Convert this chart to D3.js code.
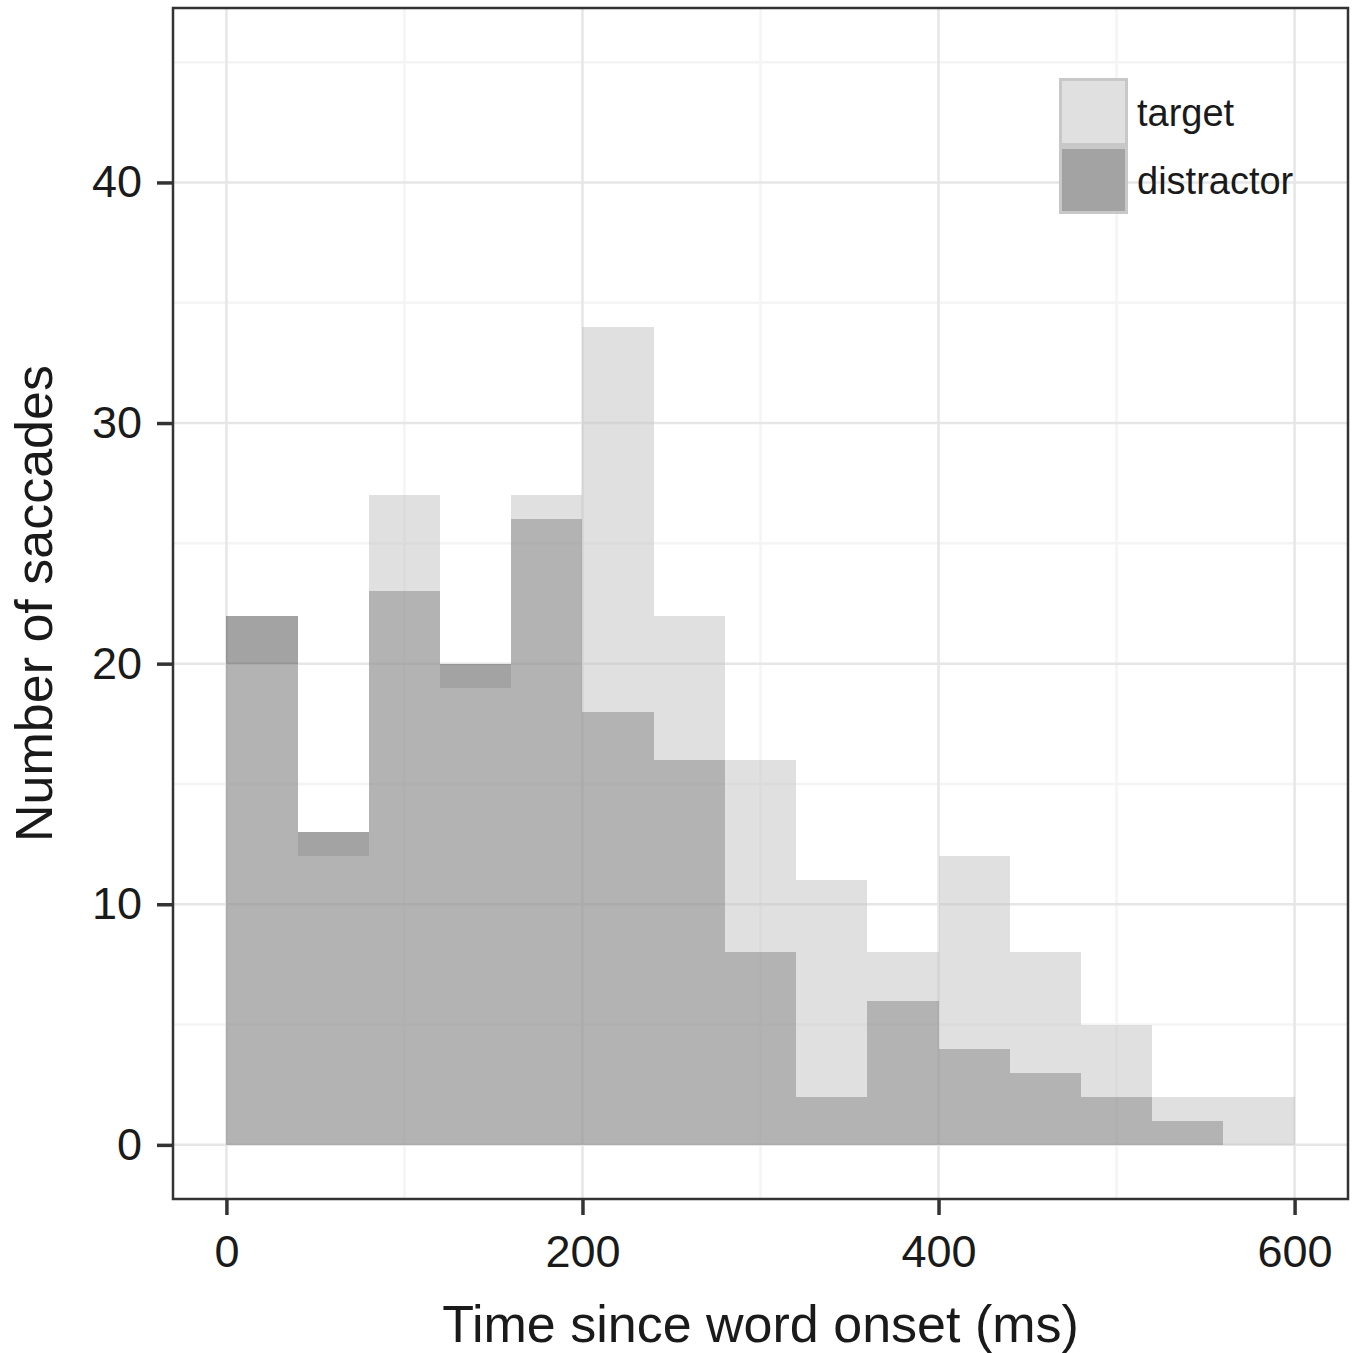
<!DOCTYPE html>
<html>
<head>
<meta charset="utf-8">
<script src="https://cdn.jsdelivr.net/npm/d3@7"></script>
<style>
  html, body { margin: 0; padding: 0; background: #fff; }
  svg { display: block; font-family: "Liberation Sans", Arial, Helvetica, sans-serif; }
</style>
</head>
<body>
<svg id="chart" width="1358" height="1353"></svg>
<script>
// ---- data ----
const binStarts = [0, 40, 80, 120, 160, 200, 240, 280, 320, 360, 400, 440, 480, 520, 560];
const binWidth = 40;
const targetCounts =     [20, 12, 27, 19, 27, 34, 22, 16, 11, 8, 12, 8, 5, 2, 2];
const distractorCounts = [22, 13, 23, 20, 26, 18, 16,  8,  2, 6,  4, 3, 2, 1, 0];
const xTicks = [0, 200, 400, 600];
const xMinor = [100, 300, 500];
const yTicks = [0, 10, 20, 30, 40];
const yMinor = [5, 15, 25, 35, 45];
const legendLabels = ["target", "distractor"];

// ---- layout ----
const panel = { left: 173, right: 1348, top: 8, bottom: 1199 };
const svg = d3.select("#chart");

const x = d3.scaleLinear().domain([-30, 630]).range([panel.left, panel.right]);
const y = d3.scaleLinear().domain([-2.25, 47.25]).range([panel.bottom, panel.top]);

const colors = {
  distractor: { fill: "rgb(51,51,51)", opacity: 0.45 },
  target: { fill: "rgb(194,194,194)", opacity: 0.51 }
};

// background
svg.append("rect").attr("x", 0).attr("y", 0).attr("width", 1358).attr("height", 1353).attr("fill", "#fff");

// grid
const grid = svg.append("g");
grid.selectAll("line.ymin").data(yMinor).join("line")
  .attr("x1", panel.left).attr("x2", panel.right)
  .attr("y1", d => y(d)).attr("y2", d => y(d))
  .attr("stroke", "#f4f4f4").attr("stroke-width", 2.5);
grid.selectAll("line.xmin").data(xMinor).join("line")
  .attr("y1", panel.top).attr("y2", panel.bottom)
  .attr("x1", d => x(d)).attr("x2", d => x(d))
  .attr("stroke", "#f4f4f4").attr("stroke-width", 2.5);
grid.selectAll("line.ymaj").data(yTicks).join("line")
  .attr("x1", panel.left).attr("x2", panel.right)
  .attr("y1", d => y(d)).attr("y2", d => y(d))
  .attr("stroke", "#e6e6e6").attr("stroke-width", 2.5);
grid.selectAll("line.xmaj").data(xTicks).join("line")
  .attr("y1", panel.top).attr("y2", panel.bottom)
  .attr("x1", d => x(d)).attr("x2", d => x(d))
  .attr("stroke", "#e6e6e6").attr("stroke-width", 2.5);

// bars
function drawBars(counts, style) {
  svg.append("g").selectAll("rect").data(counts.map((c, i) => ({ x0: binStarts[i], c })))
    .join("rect")
    .filter(d => d.c > 0)
    .attr("x", d => x(d.x0))
    .attr("width", d => x(d.x0 + binWidth) - x(d.x0))
    .attr("y", d => y(d.c))
    .attr("height", d => y(0) - y(d.c))
    .attr("fill", style.fill)
    .attr("fill-opacity", style.opacity)
    .attr("shape-rendering", "crispEdges");
}
drawBars(distractorCounts, colors.distractor);
drawBars(targetCounts, colors.target);

// panel border
svg.append("rect")
  .attr("x", panel.left).attr("y", panel.top)
  .attr("width", panel.right - panel.left).attr("height", panel.bottom - panel.top)
  .attr("fill", "none").attr("stroke", "#333").attr("stroke-width", 2.5);

// axes
const xAxis = d3.axisBottom(x).tickValues(xTicks).tickSize(16).tickPadding(20).tickFormat(d3.format("d"));
const yAxis = d3.axisLeft(y).tickValues(yTicks).tickSize(16).tickPadding(15).tickFormat(d3.format("d"));

const gx = svg.append("g").attr("transform", `translate(0,${panel.bottom})`).call(xAxis);
const gy = svg.append("g").attr("transform", `translate(${panel.left},0)`).call(yAxis);
[gx, gy].forEach(g => {
  g.select(".domain").remove();
  g.selectAll(".tick line").attr("stroke", "#333").attr("stroke-width", 3.5);
  g.selectAll(".tick text").attr("font-size", 45).attr("fill", "#1a1a1a")
    .attr("font-family", "\"Liberation Sans\", Arial, Helvetica, sans-serif");
});

// axis titles
svg.append("text")
  .attr("x", (panel.left + panel.right) / 2).attr("y", 1342)
  .attr("text-anchor", "middle").attr("font-size", 52).attr("fill", "#1a1a1a")
  .text("Time since word onset (ms)");
svg.append("text")
  .attr("transform", `translate(52,${(panel.top + panel.bottom) / 2}) rotate(-90)`)
  .attr("text-anchor", "middle").attr("font-size", 52).attr("fill", "#1a1a1a")
  .text("Number of saccades");

// legend
const legend = svg.append("g").attr("transform", "translate(1059,78)");
const keyH = 68, keyW = 69;
const legendStyles = [colors.target, colors.distractor];
legendLabels.forEach((lab, i) => {
  const g = legend.append("g").attr("transform", `translate(0,${i * keyH})`);
  g.append("rect").attr("width", keyW).attr("height", keyH).attr("fill", "#fff");
  g.append("rect").attr("x", 1.5).attr("y", 1.5).attr("width", keyW - 3).attr("height", keyH - 3)
    .attr("fill", legendStyles[i].fill).attr("fill-opacity", legendStyles[i].opacity)
    .attr("stroke", "#c8c8c8").attr("stroke-width", 3);
  g.append("text").attr("x", 78).attr("y", 48)
    .attr("font-size", 38).attr("fill", "#1a1a1a").text(lab);
});
</script>
</body>
</html>
